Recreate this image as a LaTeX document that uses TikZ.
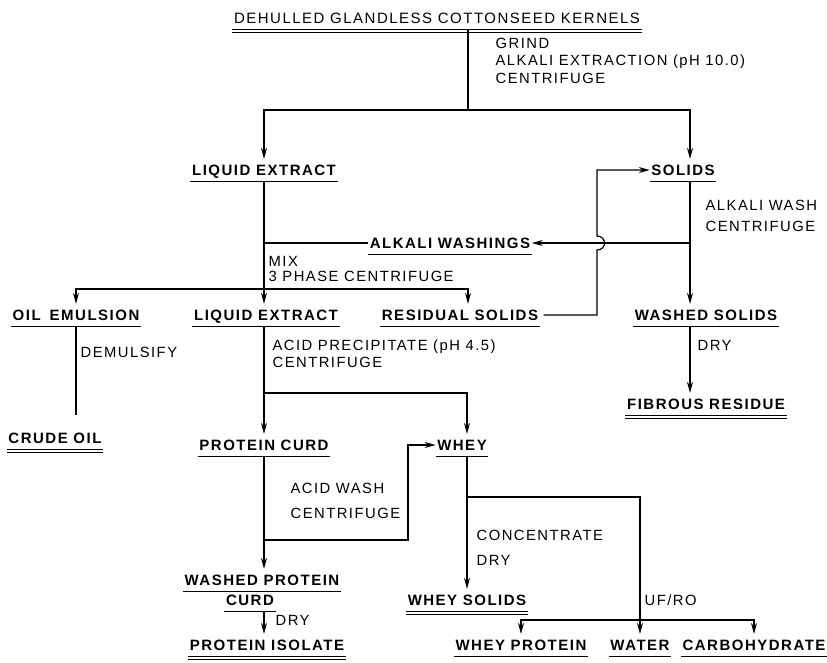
\documentclass[tikz,border=0pt]{standalone}
\usepackage{fontspec}
\setmainfont{Liberation Sans}
\newfontfamily\regf{Liberation Sans}[LetterSpace=10]
\usetikzlibrary{arrows.meta}
\begin{document}
\begin{tikzpicture}[x=1pt,y=-1pt,line width=1.2pt,
  lab/.style={font=\regf\bfseries\fontsize{15}{17}\selectfont, inner xsep=1pt, inner ysep=5pt, text height=11pt, text depth=0pt},
  ttl/.style={lab, font=\regf\fontsize{15}{17}\selectfont},
  proc/.style={font=\regf\fontsize{14.8}{17}\selectfont, inner sep=0pt, anchor=west, text height=11pt, text depth=0pt},
  arr/.style={-{Stealth[length=11pt,width=6pt]}}]
\fill[white] (0,0) rectangle (827,662);
\useasboundingbox (0,0) rectangle (827,662);

\node[ttl] (kern) at (437,18) {DEHULLED GLANDLESS COTTONSEED KERNELS};
\node[proc] (p1) at (495,43) {GRIND};
\node[proc] (p2) at (495,60) {ALKALI EXTRACTION (pH 10.0)};
\node[proc] (p3) at (495,78) {CENTRIFUGE};
\coordinate (j1) at (468,110);
\node[lab] (le1) at (264,170) {LIQUID EXTRACT};
\node[lab] (sol) at (683,170) {SOLIDS};
\node[proc] (p4) at (705,205) {ALKALI WASH};
\node[proc] (p5) at (705,226) {CENTRIFUGE};
\node[lab] (aw) at (450,243) {ALKALI WASHINGS};
\coordinate (cs) at (690,243);
\node[proc] (p6) at (268,261) {MIX};
\node[proc] (p7) at (268,276) {3 PHASE CENTRIFUGE};
\coordinate (j2) at (264,289);
\node[lab] (oil) at (76,315) {OIL\hspace{0.6em}EMULSION};
\node[lab] (le2) at (266,315) {LIQUID EXTRACT};
\node[lab] (res) at (460,315) {RESIDUAL SOLIDS};
\node[lab] (ws) at (706,315) {WASHED SOLIDS};
\coordinate (cr) at (597,316);
\node[proc] (p8) at (80,352) {DEMULSIFY};
\node[proc] (p9) at (272,345) {ACID PRECIPITATE (pH 4.5)};
\node[proc] (p10) at (272,362) {CENTRIFUGE};
\node[proc] (p11) at (697,345) {DRY};
\coordinate (j3) at (264,393);
\node[lab] (fib) at (706,404) {FIBROUS RESIDUE};
\node[lab] (crude) at (55,438) {CRUDE OIL};
\node[lab] (curd) at (264,445) {PROTEIN CURD};
\node[lab] (whey) at (462,445) {WHEY};
\node[proc] (p12) at (290,488) {ACID WASH};
\node[proc] (p13) at (290,513) {CENTRIFUGE};
\coordinate (j5) at (467,497);
\node[proc] (p14) at (476,535) {CONCENTRATE};
\node[proc] (p15) at (476,560) {DRY};
\coordinate (j4) at (264,540);
\coordinate (c408) at (408,540);
\node[lab] (wpc1) at (262,580) {WASHED PROTEIN};
\node[lab] (wpc2) at (250,600) {CURD};
\node[lab] (wsol) at (467,600) {WHEY SOLIDS};
\node[proc] (p16) at (644,600) {UF/RO};
\node[proc] (p17) at (275,620) {DRY};
\coordinate (j6) at (640,620);
\node[lab] (iso) at (267,645) {PROTEIN ISOLATE};
\node[lab] (wp) at (521,645) {WHEY PROTEIN};
\node[lab] (water) at (640,645) {WATER};
\node[lab] (carb) at (754,645) {CARBOHYDRATE};

% underlines
\foreach \n in {le1,sol,aw,oil,le2,res,ws,curd,whey,wpc1,wpc2,wp,water,carb}
  \draw[line width=0.9pt] (\n.south west) -- (\n.south east);
\foreach \n in {kern,crude,fib,wsol,iso}{
  \draw[line width=0.9pt] (\n.south west) -- (\n.south east);
  \draw[line width=0.9pt] ([yshift=-3pt]\n.south west) -- ([yshift=-3pt]\n.south east);}

% connectors
\draw (kern.south -| j1) -- (j1);
\draw[arr] (j1) -| (le1.north);
\draw[arr] (j1) -| (sol.north -| cs);
\draw[arr] (le1.south) -- (le2.north -| le1.south);
\draw (aw.west) -- (aw.west -| le1.south);
\draw[arr] (j2) -| (oil.north);
\draw[arr] (j2) -| ([xshift=8pt]res.north);
\draw[arr] (sol.south -| cs) -- (ws.north -| cs);
\draw[arr] (cs) -- (aw.east);
\draw[arr] ([xshift=4pt]res.east) -- (res.east -| cr) -- (597,250) .. controls (607,250) and (607,236) .. (597,236) -- (sol.west -| cr) -- (sol.west);
\draw[arr] (ws.south -| cs) -- (fib.north -| cs);
\draw[shorten >=12pt] (oil.south) -- (crude.north -| oil.south);
\draw[arr] (le2.south -| le1.south) -- (curd.north);
\draw[arr] (j3) -| ([xshift=5pt]whey.north);
\draw[arr] (curd.south) -- (wpc1.north -| curd.south);
\draw[arr] (j4) -- (c408) |- (whey.west);
\draw[arr] (wpc2.south -| curd.south) -- (iso.north -| curd.south);
\draw[arr] (whey.south -| j5) -- (wsol.north -| j5);
\draw (j5) -| (j6);
\draw[arr] (j6) -- (water.north);
\draw[arr] (j6) -| (wp.north);
\draw[arr] (j6) -| (carb.north);
\end{tikzpicture}
\end{document}
